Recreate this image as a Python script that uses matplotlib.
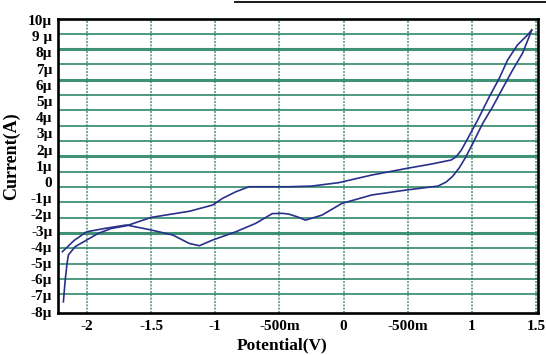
import matplotlib.pyplot as plt
from matplotlib.lines import Line2D
import numpy as np

# forward sweep (from the negative limit up to +1.47 V), current in µA
fwd_v = [-2.184, -2.170, -2.155, -2.145, -2.093, -2.003, -1.913, -1.809, -1.693,
         -1.600, -1.499, -1.357, -1.200, -1.021, -0.944, -0.840, -0.737, -0.582,
         -0.427, -0.250, -0.039, 0.219, 0.491, 0.684, 0.839, 0.878, 0.919, 0.969,
         1.046, 1.137, 1.214, 1.279, 1.356, 1.434, 1.467]
fwd_i = [-7.39, -6.05, -5.00, -4.50, -3.99, -3.58, -3.17, -2.86, -2.70,
         -2.45, -2.18, -2.00, -1.80, -1.42, -1.01, -0.60, -0.29, -0.29,
         -0.29, -0.25, -0.04, 0.43, 0.84, 1.11, 1.36, 1.56, 1.98, 2.70,
         3.83, 5.27, 6.40, 7.53, 8.46, 9.07, 9.38]

# reverse sweep (back down to the negative limit)
rev_v = [1.467, 1.447, 1.395, 1.318, 1.240, 1.163, 1.085, 1.008, 0.950, 0.900,
         0.850, 0.800, 0.736, 0.491, 0.219, -0.013, -0.168, -0.297, -0.362,
         -0.427, -0.478, -0.556, -0.685, -0.840, -1.021, -1.124, -1.202, -1.331,
         -1.499, -1.693, -1.860, -2.003, -2.100, -2.192]
rev_i = [9.38, 8.97, 7.94, 6.91, 5.78, 4.65, 3.62, 2.39, 1.50, 0.85,
         0.35, 0.00, -0.25, -0.49, -0.80, -1.32, -2.04, -2.35, -2.14,
         -1.98, -1.93, -1.95, -2.55, -3.07, -3.58, -3.93, -3.79, -3.27,
         -2.96, -2.65, -2.86, -3.07, -3.60, -4.30]

x_ticks = [-2, -1.5, -1, -0.5, 0, 0.5, 1, 1.5]
x_labels = ['-2', '-1.5', '-1', '-500m', '0', '-500m', '1', '1.5']
y_ticks = list(range(10, -9, -1))
y_labels = ['10µ', '9 µ', '8µ', '7µ', '6µ', '5µ', '4µ', '3µ', '2µ', '1µ', '0',
            '-1µ', '-2µ', '-3µ', '-4µ', '-5µ', '-6µ', '-7µ', '-8µ']

plt.rcParams['font.family'] = ['Liberation Serif', 'DejaVu Serif']
plt.rcParams['font.weight'] = 'bold'

fig = plt.figure(figsize=(5.46, 3.55), dpi=100)
ax = fig.add_axes([58 / 546, 1 - 313 / 355, 480 / 546, 294 / 355])

grid_col = '#1f7f5c'
# horizontal grid of the instrument display (not tied to the tick labels)
grid_levels = np.linspace(9.154, -6.93, 18)
heavy = {1, 3, 8, 13}
for k, g in enumerate(grid_levels):
    ax.axhline(g, color=grid_col, lw=2.2 if k in heavy else 1.3,
               alpha=0.85, zorder=1)
for xv in x_ticks:
    ax.axvline(xv, color=grid_col, lw=1.2, ls=(0, (1.2, 0.8)), alpha=0.75, zorder=1)

ax.plot(fwd_v, fwd_i, color='#28308c', lw=1.2, zorder=3)
ax.plot(rev_v, rev_i, color='#28308c', lw=1.2, zorder=3)

ax.set_xlim(-2.226, 1.516)
ax.set_ylim(-8.08, 10.06)
ax.set_xticks(x_ticks)
ax.set_xticklabels(x_labels, fontsize=11, fontweight='bold')
ax.set_yticks(y_ticks)
ax.set_yticklabels(y_labels, fontsize=11, fontweight='bold')
ax.tick_params(length=0, pad=4)
ax.tick_params(axis='x', pad=5)

for s in ax.spines.values():
    s.set_linewidth(1.9)
    s.set_color('black')

ax.set_xlabel('Potential(V)', fontsize=12.5, fontweight='bold')
ax.xaxis.set_label_coords(0.467, -0.082)
ax.set_ylabel('Current(A)', fontsize=13, fontweight='bold')
ax.yaxis.set_label_coords(-0.078, 0.535)

# short rule along the top edge
fig.add_artist(Line2D([235 / 546, 1.0], [1 - 1.5 / 355] * 2,
                      color='#1a1a1a', lw=1.4))

fig.savefig('out.png', dpi=100)
